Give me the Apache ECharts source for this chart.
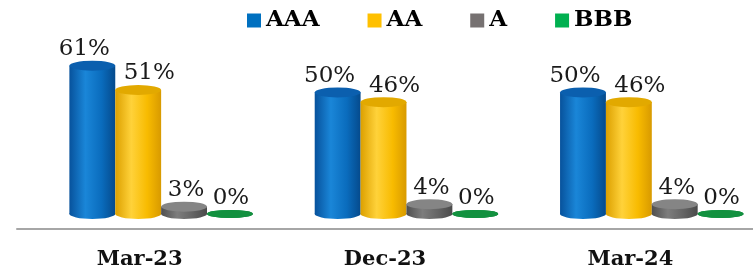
<!DOCTYPE html>
<html>
<head>
<meta charset="utf-8">
<script src="https://cdn.jsdelivr.net/npm/echarts@6/dist/echarts.min.js"></script>
<style>
  html, body { margin: 0; padding: 0; background: #fff; }
  #main { width: 753px; height: 274px; }
</style>
</head>
<body>
<div id="main"></div>
<script>
// data
var categories = ['Mar-23', 'Dec-23', 'Mar-24'];
var seriesNames = ['AAA', 'AA', 'A', 'BBB'];
var aaaValues = [61, 50, 50];
var aaValues = [51, 46, 46];
var aValues = [3, 4, 4];
var bbbValues = [0, 0, 0];

var myChart = echarts.init(document.getElementById('main'));

// look of each cylinder: legend colour, body gradient, top colour, label nudge
var looks = [
  { color: '#0070C0', body: ['#07529c', '#1a86d8', '#0a6cbd', '#054a8c'], top: '#0b5fae', dx: -8 },
  { color: '#FFC000', body: ['#dca000', '#ffd23a', '#f8bb00', '#d89a00'], top: '#e2a900', dx: 11 },
  { color: '#767171', body: ['#4f4f4f', '#7d7d7d', '#636363', '#4a4a4a'], top: '#858585', dx: 2 },
  { color: '#00B050', body: ['#0a7a35', '#16a04b', '#0e8c3f', '#087031'], top: '#12913f', dx: 1 }
];

function cylinder(idx) {
  return function (params, api) {
    var look = looks[idx];
    var val = api.value(1);
    var topPt = api.coord([api.value(0), val]);
    var basePt = api.coord([api.value(0), 0]);
    var band = api.size([1, 0])[0];
    var w = band * 0.187;
    var cx = topPt[0] + band * 0.0875 + (idx - 1.5) * w;
    var ry = val === 0 ? 4 : 5;
    var grad = new echarts.graphic.LinearGradient(0, 0, 1, 0, [
      { offset: 0, color: look.body[0] },
      { offset: 0.35, color: look.body[1] },
      { offset: 0.7, color: look.body[2] },
      { offset: 1, color: look.body[3] }
    ]);
    var kids = [];
    kids.push({
      type: 'circle', x: cx, y: basePt[1], scaleY: ry / (w / 2),
      shape: { cx: 0, cy: 0, r: w / 2 }, style: { fill: grad }
    });
    if (basePt[1] - topPt[1] > 0.5) {
      kids.push({
        type: 'rect',
        shape: { x: cx - w / 2, y: topPt[1], width: w, height: basePt[1] - topPt[1] },
        style: { fill: grad }
      });
    }
    kids.push({
      type: 'circle', x: cx, y: topPt[1], scaleY: ry / (w / 2),
      shape: { cx: 0, cy: 0, r: w / 2 }, style: { fill: look.top }
    });
    kids.push({
      type: 'text',
      style: {
        text: val + '%', x: cx + look.dx, y: topPt[1] - ry,
        align: 'center', verticalAlign: 'bottom',
        fontSize: 23, fontFamily: 'DejaVu Serif', fill: '#1a1a1a'
      }
    });
    return { type: 'group', children: kids };
  };
}

var allValues = [aaaValues, aaValues, aValues, bbbValues];
var series = seriesNames.map(function (name, i) {
  return {
    name: name,
    type: 'custom',
    renderItem: cylinder(i),
    itemStyle: { color: looks[i].color },
    encode: { x: 0, y: 1 },
    data: allValues[i].map(function (v, j) { return [j, v]; })
  };
});

var option = {
  animation: false,
  legend: {
    data: seriesNames,
    left: 247,
    top: 9,
    padding: 0,
    icon: 'rect',
    itemWidth: 14,
    itemHeight: 14,
    itemGap: 48,
    textStyle: { fontSize: 23, fontWeight: 'bold', fontFamily: 'DejaVu Serif', color: '#000' }
  },
  grid: { left: 17, right: -10, top: 29, bottom: 45 },
  xAxis: {
    type: 'category',
    data: categories,
    axisLine: { onZero: false, lineStyle: { color: '#a6a6a6', width: 2 } },
    axisTick: { length: 7, lineStyle: { color: '#a6a6a6', width: 1 } },
    axisLabel: { fontSize: 21, fontWeight: 'bold', fontFamily: 'DejaVu Serif', color: '#111', margin: 20 }
  },
  yAxis: { type: 'value', show: false, min: -6.2, max: 76.1, splitLine: { show: false } },
  series: series
};

myChart.setOption(option);
</script>
</body>
</html>
